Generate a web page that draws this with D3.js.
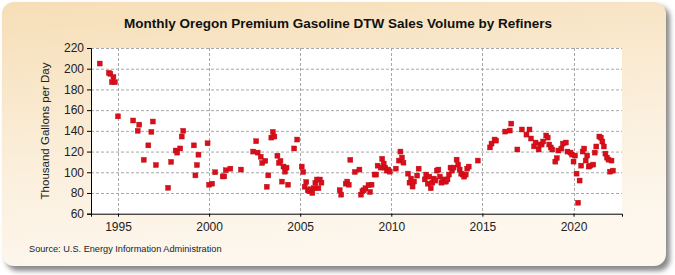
<!DOCTYPE html>
<html lang="en">
<head>
<meta charset="utf-8">
<title>Monthly Oregon Premium Gasoline DTW Sales Volume by Refiners</title>
<script src="https://d3js.org/d3.v7.min.js"></script>
<style>
  body { margin: 0; background: #fff; }
  svg { display: block; font-family: "Liberation Sans Narrow", "Liberation Sans", Arial, sans-serif; }
</style>
</head>
<body>
<svg id="chart"></svg>
<script>
// monthly observations (YYYY-MM) and values, thousand gallons per day
const months = [
  "1994-01","1994-07","1994-08","1994-09","1994-10","1994-11","1995-01","1995-11",
  "1996-02","1996-03","1996-06","1996-09","1996-11","1996-12","1997-02","1997-10","1997-12",
  "1998-03","1998-04","1998-06","1998-07","1998-08","1999-03","1999-04","1999-05","1999-06","1999-12",
  "2000-01","2000-03","2000-05","2000-10","2000-11","2000-12","2001-03","2001-10",
  "2002-06","2002-08","2002-09","2002-11","2002-12","2003-02","2003-03","2003-04","2003-06","2003-07",
  "2003-08","2003-10","2003-11","2003-12","2004-01","2004-02","2004-03","2004-04","2004-05","2004-09","2004-11",
  "2005-02","2005-03","2005-04","2005-05","2005-06","2005-07","2005-08","2005-09","2005-10","2005-11","2005-12",
  "2006-01","2006-02","2006-03","2007-03","2007-04","2007-07","2007-08","2007-09","2007-10",
  "2008-01","2008-04","2008-05","2008-06","2008-07","2008-08","2008-10","2008-11","2008-12",
  "2009-02","2009-03","2009-04","2009-06","2009-07","2009-08","2009-09","2009-10","2009-11","2009-12",
  "2010-04","2010-06","2010-07","2010-08","2010-09","2010-12","2011-01","2011-02","2011-03","2011-04",
  "2011-06","2011-07","2011-11","2011-12","2012-01","2012-02","2012-03","2012-04","2012-05","2012-06",
  "2012-07","2012-08","2012-09","2012-10","2012-11","2012-12","2013-01","2013-02","2013-03","2013-04",
  "2013-05","2013-06","2013-08","2013-09","2013-10","2013-11","2013-12","2014-01","2014-02","2014-03",
  "2014-04","2014-10","2015-06","2015-07","2015-09","2015-10","2016-04","2016-07","2016-08","2016-12",
  "2017-03","2017-06","2017-08","2017-09","2017-11","2017-12","2018-02","2018-03","2018-04","2018-05",
  "2018-07","2018-08","2018-09","2018-10","2018-11","2019-01","2019-02","2019-03","2019-05","2019-06",
  "2019-08","2019-09","2019-11","2019-12","2020-01","2020-02","2020-03","2020-04","2020-05","2020-06",
  "2020-07","2020-08","2020-09","2020-10","2020-11","2020-12","2021-02","2021-03","2021-04","2021-06",
  "2021-07","2021-08","2021-09","2021-10","2021-11","2021-12","2022-01","2022-02","2022-03"
];
const volumes = [
  205,196,195,187,192,187,154,150,
  140,146,112,126,139,149,107,85,110,
  121,119,123,134.5,140,126,97,107,117,128,
  88,89,100,96,96,102,103.5,102.6,
  120,130,119,115,109,111,86,97,133.5,139,
  134.5,116,109,111,91,105.5,100.6,104.5,88,123,131.6,
  105.5,100.3,86,90.6,82.7,81.7,83.6,80,84.6,89.8,93,
  84.6,93,90,82.7,78.4,89,91,88,112,
  100.3,102.6,78.4,81.7,82.7,84.6,87.7,81,88,
  97.8,97.8,106.4,104.5,113,108.4,104.5,101.6,102.6,100.6,
  103.5,111.3,120,114.2,109.3,98.7,90,93.9,86.2,91,
  96.8,103.5,93.1,97.8,89,95.8,84.6,90,93.9,92,
  101.6,102.6,95.8,90,93.1,91,91,93.1,97.8,104.5,
  101.6,104.5,112.2,107.4,102.6,98.7,97.8,95.8,97.8,103.5,
  105.5,111.3,124,127.7,131.6,130.6,139.3,140.3,147,122,
  141.3,136.4,141.3,132.6,125,128.7,122,126.8,126.8,129.7,
  135.5,133.5,126.8,124,122,110.3,113.7,121,122.9,127.7,
  128.7,120,119,117.1,110.3,116.1,98.7,70.6,92,106.4,
  120,122.9,111.3,116.1,105.5,106.4,107.4,119,124.9,134.5,
  133.5,129.7,124.9,118,114.2,112.2,100.6,111.3,101.6
];
const yearTicks = [1995, 2000, 2005, 2010, 2015, 2020];
const valueTicks = [60, 80, 100, 120, 140, 160, 180, 200, 220];

const W = 675, H = 275;
const svg = d3.select("#chart").attr("width", W).attr("height", H);
const defs = svg.append("defs");

const bg = defs.append("linearGradient").attr("id", "bg")
  .attr("x1", 0).attr("y1", 0).attr("x2", 0.25).attr("y2", 1);
bg.append("stop").attr("offset", "0%").attr("stop-color", "#f6deb6");
bg.append("stop").attr("offset", "60%").attr("stop-color", "#fbefdc");
bg.append("stop").attr("offset", "100%").attr("stop-color", "#fdf7ee");

defs.append("filter").attr("id", "blur").append("feGaussianBlur").attr("stdDeviation", 2.5);

// panel shadow + panel
svg.append("rect").attr("x", 6).attr("y", 6).attr("width", 664).attr("height", 265)
  .attr("rx", 12).attr("fill", "#8a8a8a").attr("filter", "url(#blur)");
svg.append("rect").attr("x", 2).attr("y", 2).attr("width", 664).attr("height", 264)
  .attr("rx", 12).attr("fill", "url(#bg)");

const x = d3.scaleLinear().domain([1993.52, 2022.66]).range([91, 622]);
const y = d3.scaleLinear().domain([60, 220]).range([213.7, 48]);

svg.append("rect").attr("x", 91).attr("y", 48).attr("width", 531).attr("height", 165.7)
  .attr("fill", "#fff");

// gridlines
svg.append("g").selectAll("line").data(valueTicks.slice(1)).join("line")
  .attr("x1", 91).attr("x2", 622)
  .attr("y1", d => y(d) + 0.5).attr("y2", d => y(d) + 0.5)
  .attr("stroke", "#a8a8a8").attr("stroke-dasharray", "3,2");
svg.append("g").selectAll("line").data(yearTicks).join("line")
  .attr("x1", d => Math.round(x(d)) + 0.5).attr("x2", d => Math.round(x(d)) + 0.5)
  .attr("y1", 48).attr("y2", 213.7)
  .attr("stroke", "#a8a8a8").attr("stroke-dasharray", "3,2");

// axes
const yAxis = svg.append("g").attr("transform", "translate(91,0)")
  .call(d3.axisLeft(y).tickValues(valueTicks).tickSize(4).tickFormat(d3.format("d")));
const xAxis = svg.append("g").attr("transform", "translate(0,213.7)")
  .call(d3.axisBottom(x).tickValues(yearTicks).tickSize(3).tickFormat(d3.format("d")));
[yAxis, xAxis].forEach(a => {
  a.select(".domain").attr("stroke", "#000");
  a.selectAll(".tick line").attr("stroke", "#000");
  a.selectAll("text").attr("font-family", "Liberation Sans Narrow, Liberation Sans, sans-serif")
    .attr("font-size", 12).attr("fill", "#222");
});
xAxis.selectAll("text").attr("dy", "0.95em");

// points
const pts = months.map((m, i) => {
  const [yy, mm] = m.split("-").map(Number);
  return { t: yy + (mm - 1) / 12, v: volumes[i] };
});
const s = 5;
svg.append("g").selectAll("rect").data(pts).join("rect")
  .attr("x", d => x(d.t) - s / 2).attr("y", d => y(d.v) - s / 2)
  .attr("width", s).attr("height", s)
  .attr("fill", "#dc0d18").attr("stroke", "#b0101a").attr("stroke-width", 0.4);

// texts
svg.append("text").attr("x", 338).attr("y", 28).attr("text-anchor", "middle")
  .attr("font-size", 13.5).attr("font-weight", "bold").attr("fill", "#111")
  .text("Monthly Oregon Premium Gasoline DTW Sales Volume by Refiners");
svg.append("text").attr("transform", "translate(49,131) rotate(-90)")
  .attr("text-anchor", "middle").attr("font-size", 11.5).attr("fill", "#222")
  .text("Thousand Gallons per Day");
svg.append("text").attr("x", 29).attr("y", 252)
  .attr("font-size", 9.2).attr("fill", "#222")
  .text("Source: U.S. Energy Information Administration");
</script>
</body>
</html>
